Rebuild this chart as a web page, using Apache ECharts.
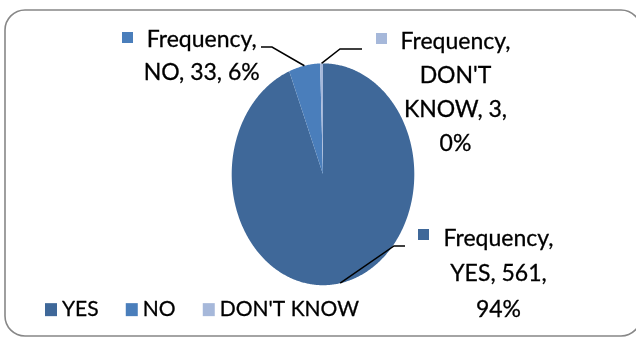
<!DOCTYPE html>
<html><head><meta charset="utf-8">
<script src="https://cdn.jsdelivr.net/npm/echarts@6/dist/echarts.min.js"></script>
<style>html,body{margin:0;padding:0;background:#fff}#c{width:636px;height:337px}</style>
</head><body><div id="c"></div>
<script>
// ---- data ----
const seriesName = 'Frequency';
const categories = ['YES', 'NO', "DON'T KNOW"];
const frequency = [561, 33, 3];
const percentLabels = ['94%', '6%', '0%'];
// line breaks (token index after which a label wraps)
const wrapAfter = [[0, 2], [0], [0, 1, 3]];

// ---- style / layout ----
const colors = ['#3F6899', '#4A7EBB', '#A6B8DA'];
const FONT = 'Lato';
const FS = 23;
const P = { cx: 323, cy: 174.3, rx: 91.3, ry: 110.9 };
const labelLayout = [
  { cx: 498.5, top: 220.6, lh: 35.5, elbow: [394, 246], end: [405, 246], marker: [418, 229] },
  { cx: 201.7, top: 22.6, lh: 33, elbow: [272, 47], end: [261, 47], marker: [122, 32] },
  { cx: 455.5, top: 25, lh: 34, elbow: [340, 49], end: [362, 49], marker: [376, 33] }
];

const total = frequency.reduce((a, b) => a + b, 0);
const cum = [];
let acc = 0;
frequency.forEach(v => { cum.push(acc); acc += v; });

function ellPt(t) { return [P.cx + P.rx * Math.sin(t), P.cy - P.ry * Math.cos(t)]; }

function labelText(i) {
  const tokens = (seriesName + ', ' + categories[i] + ', ' + frequency[i] + ', ' + percentLabels[i]).split(' ');
  let out = '';
  tokens.forEach((tk, k) => {
    out += tk;
    if (k < tokens.length - 1) out += wrapAfter[i].indexOf(k) >= 0 ? '\n' : ' ';
  });
  return out;
}

const chart = echarts.init(document.getElementById('c'), null, { renderer: 'canvas' });
chart.setOption({
  animation: false,
  backgroundColor: '#fff',
  graphic: [{
    type: 'rect', z: -10,
    shape: { x: 5, y: 10, width: 636, height: 326, r: 20 },
    style: { fill: '#fff', stroke: '#878787', lineWidth: 1.6 }
  }],
  legend: {
    left: 40, top: 294,
    itemWidth: 12, itemHeight: 13, itemGap: 27,
    icon: 'rect',
    data: categories,
    textStyle: { fontFamily: FONT, fontSize: 21, color: '#000', textBorderColor: '#000', textBorderWidth: 0.3 }
  },
  series: [
    {
      // provides legend entries (hidden behind the elliptical pie)
      type: 'pie', name: seriesName, z: 1, silent: true,
      center: [P.cx, P.cy], radius: [0, 1],
      label: { show: false }, labelLine: { show: false },
      data: categories.map((c, i) => ({ name: c, value: frequency[i], itemStyle: { color: colors[i] } }))
    },
    {
      type: 'custom', name: seriesName, coordinateSystem: 'none', z: 5, silent: true,
      data: categories.map((c, i) => ({ name: c, value: [i, frequency[i]] })),
      renderItem: function (params, api) {
        const i = params.dataIndex;
        const v = api.value(1);
        const a0 = cum[i] / total * 2 * Math.PI;
        const a1 = (cum[i] + v) / total * 2 * Math.PI;
        const n = Math.max(2, Math.ceil((a1 - a0) / 0.01));
        const pts = [[P.cx, P.cy]];
        for (let k = 0; k <= n; k++) pts.push(ellPt(a0 + (a1 - a0) * k / n));
        const anchor = ellPt((a0 + a1) / 2);
        const L = labelLayout[i];
        return {
          type: 'group',
          children: [
            { type: 'polygon', shape: { points: pts }, style: { fill: colors[i] } },
            { type: 'polyline', z2: 10, shape: { points: [anchor, L.elbow, L.end] }, style: { stroke: '#000', lineWidth: 1.5, fill: null } },
            { type: 'rect', shape: { x: L.marker[0], y: L.marker[1], width: 11, height: 11 }, style: { fill: colors[i] } },
            { type: 'text', style: { text: labelText(i), x: L.cx, y: L.top, align: 'center', verticalAlign: 'top', fontSize: FS, fontFamily: FONT, lineHeight: L.lh, fill: '#000', stroke: '#000', lineWidth: 0.3 } }
          ]
        };
      }
    }
  ]
});
</script></body></html>
